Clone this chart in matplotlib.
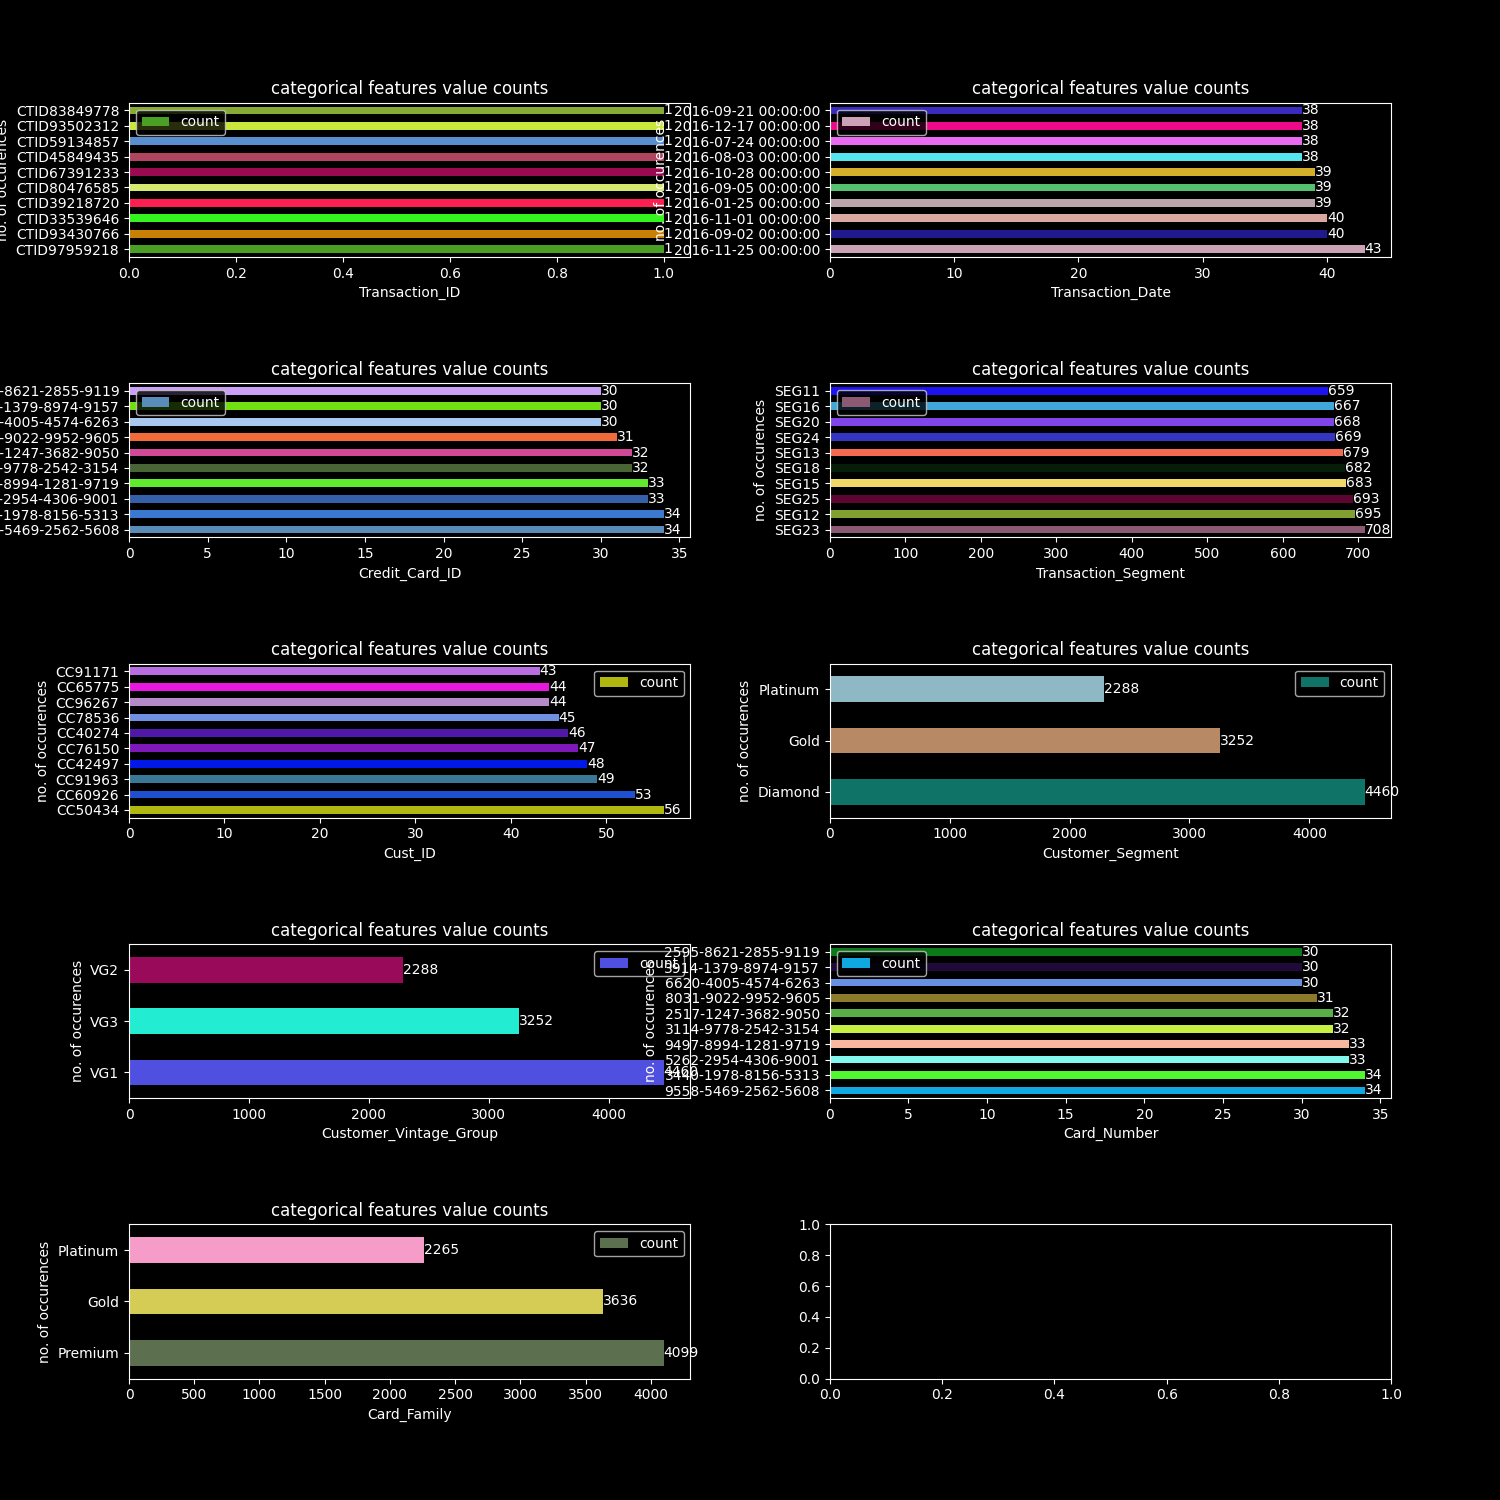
import matplotlib
matplotlib.use("Agg")
import matplotlib.pyplot as plt

# value counts per categorical feature (largest first -> drawn at the bottom)
txn_id_labels = ["CTID97959218", "CTID93430766", "CTID33539646", "CTID39218720", "CTID80476585",
                 "CTID67391233", "CTID45849435", "CTID59134857", "CTID93502312", "CTID83849778"]
txn_id_counts = [1, 1, 1, 1, 1, 1, 1, 1, 1, 1]
txn_id_colors = ["#4aa025", "#c88005", "#34f51e", "#fc1f4f", "#d4ea6e",
                 "#9a0a50", "#b04560", "#5a8fcf", "#c8e63c", "#86ab35"]

txn_date_labels = ["2016-11-25 00:00:00", "2016-09-02 00:00:00", "2016-11-01 00:00:00",
                   "2016-01-25 00:00:00", "2016-09-05 00:00:00", "2016-10-28 00:00:00",
                   "2016-08-03 00:00:00", "2016-07-24 00:00:00", "2016-12-17 00:00:00",
                   "2016-09-21 00:00:00"]
txn_date_counts = [43, 40, 40, 39, 39, 39, 38, 38, 38, 38]
txn_date_colors = ["#cca2b6", "#23198f", "#d9a8a0", "#b9a5ab", "#55c070",
                   "#d4b02a", "#55e3ee", "#e86af0", "#f0088a", "#3a2bc0"]

card_labels = ["9558-5469-2562-5608", "3440-1978-8156-5313", "5262-2954-4306-9001",
               "9497-8994-1281-9719", "3114-9778-2542-3154", "2517-1247-3682-9050",
               "8031-9022-9952-9605", "6620-4005-4574-6263", "3914-1379-8974-9157",
               "2595-8621-2855-9119"]
card_counts = [34, 34, 33, 33, 32, 32, 31, 30, 30, 30]
cc_id_colors = ["#5a8cba", "#3b78d0", "#3560a8", "#60ea2e", "#4a6535",
                "#d04a98", "#f06a3a", "#a8c8f0", "#70e010", "#c9a0f5"]

seg_labels = ["SEG23", "SEG12", "SEG25", "SEG15", "SEG18",
              "SEG13", "SEG24", "SEG20", "SEG16", "SEG11"]
seg_counts = [708, 695, 693, 683, 682, 679, 669, 668, 667, 659]
seg_colors = ["#8c5a72", "#82a030", "#5c0530", "#f0d868", "#061e08",
              "#f56a50", "#3435c0", "#8045e8", "#40a8d8", "#1f12f0"]

cust_labels = ["CC50434", "CC60926", "CC91963", "CC42497", "CC76150",
               "CC40274", "CC78536", "CC96267", "CC65775", "CC91171"]
cust_counts = [56, 53, 49, 48, 47, 46, 45, 44, 44, 43]
cust_colors = ["#b0b810", "#1f50d0", "#3a7898", "#0018e8", "#7e18b8",
               "#5018a8", "#7090e0", "#b58ac8", "#e818e0", "#b86ee0"]

cseg_labels = ["Diamond", "Gold", "Platinum"]
cseg_counts = [4460, 3252, 2288]
cseg_colors = ["#107368", "#b88965", "#8fb8c5"]

vintage_labels = ["VG1", "VG3", "VG2"]
vintage_counts = [4460, 3252, 2288]
vintage_colors = ["#5050e0", "#22edd2", "#9a0a5a"]

card_num_colors = ["#10a8e0", "#50f830", "#80f8f0", "#f8b8a0", "#c8f040",
                   "#5ab048", "#8a7a2a", "#6890e0", "#1f0a3a", "#0a7a18"]

family_labels = ["Premium", "Gold", "Platinum"]
family_counts = [4099, 3636, 2265]
family_colors = ["#5c7050", "#d4cc55", "#f59cc8"]

features = [
    ("Transaction_ID", txn_id_labels, txn_id_counts, txn_id_colors),
    ("Transaction_Date", txn_date_labels, txn_date_counts, txn_date_colors),
    ("Credit_Card_ID", card_labels, card_counts, cc_id_colors),
    ("Transaction_Segment", seg_labels, seg_counts, seg_colors),
    ("Cust_ID", cust_labels, cust_counts, cust_colors),
    ("Customer_Segment", cseg_labels, cseg_counts, cseg_colors),
    ("Customer_Vintage_Group", vintage_labels, vintage_counts, vintage_colors),
    ("Card_Number", card_labels, card_counts, card_num_colors),
    ("Card_Family", family_labels, family_counts, family_colors),
]

plt.style.use("dark_background")
fig, axes = plt.subplots(5, 2, figsize=(15, 15), dpi=100)
plt.subplots_adjust(left=0.086, right=0.9275, top=0.9315, bottom=0.081,
                    wspace=0.248, hspace=0.82)

for ax, (name, labels, counts, colors) in zip(axes.flat, features):
    pos = list(range(len(labels)))
    bars = ax.barh(pos, counts, height=0.5, color=colors, label="count")
    ax.set_yticks(pos)
    ax.set_yticklabels(labels)
    ax.set_ylim(-0.5, len(labels) - 0.5)
    ax.bar_label(bars)
    ax.set_title("categorical features value counts")
    ax.set_xlabel(name)
    ax.set_ylabel("no. of occurences")
    ax.legend(loc="best")

fig.savefig("out.png", dpi=100)
